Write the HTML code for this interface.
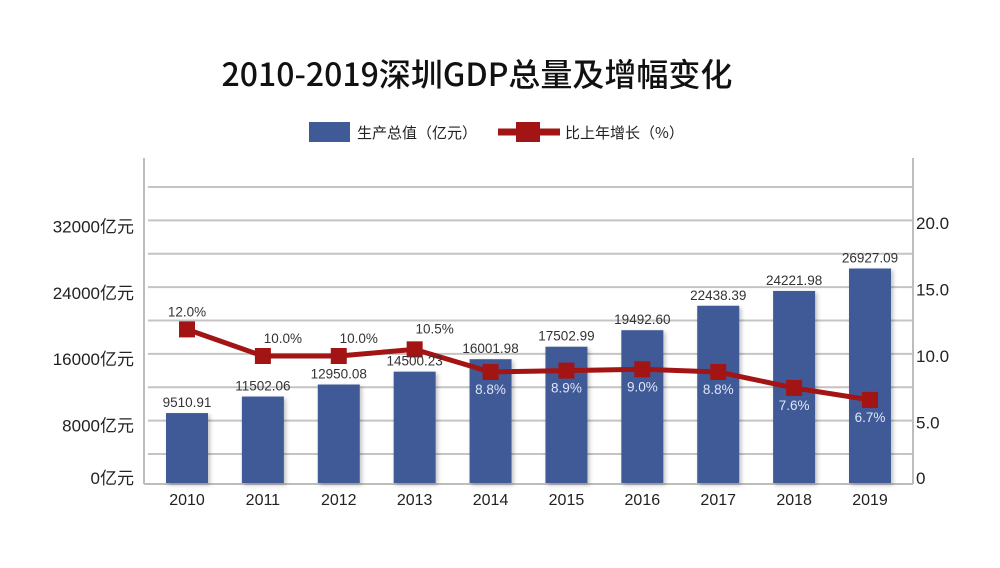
<!DOCTYPE html>
<html><head><meta charset="utf-8">
<style>
html,body{margin:0;padding:0;background:#fff;}
body{width:1000px;height:563px;overflow:hidden;font-family:"Liberation Sans","Noto Sans CJK SC",sans-serif;}
</style></head>
<body>
<svg id="chart" width="1000" height="563" xmlns="http://www.w3.org/2000/svg" font-family="'Liberation Sans','Noto Sans CJK SC',sans-serif">
  <defs>
    <filter id="sh" x="-20%" y="-20%" width="140%" height="140%">
      <feDropShadow dx="2" dy="2" stdDeviation="2" flood-color="#000" flood-opacity="0.25"/>
    </filter>
  </defs>
  <text x="477" y="86" text-anchor="middle" font-size="32" font-weight="500" fill="#111" font-family="'Noto Sans CJK SC',sans-serif">2010-2019深圳GDP总量及增幅变化</text>
  <g>
    <rect x="309" y="122" width="41" height="20" fill="#3f5a97"/>
    <text x="357" y="138" font-size="15" fill="#222" font-family="'Noto Sans CJK SC',sans-serif">生产总值（亿元）</text>
    <line x1="498" y1="132" x2="560" y2="132" stroke="#a31414" stroke-width="7"/>
    <rect x="516" y="122" width="24" height="20" fill="#a31414"/>
    <text x="565" y="138" font-size="15" fill="#222" font-family="'Noto Sans CJK SC',sans-serif">比上年增长（%）</text>
  </g>
  <g id="grid"></g>
  <g id="bars"></g>
  <g id="line"></g>
  <g id="labels"></g>
</svg>
<script>
const years=["2010","2011","2012","2013","2014","2015","2016","2017","2018","2019"];
const gdp=[9510.91,11502.06,12950.08,14500.23,16001.98,17502.99,19492.60,22438.39,24221.98,26927.09];
const gdpLabels=["9510.91","11502.06","12950.08","14500.23","16001.98","17502.99","19492.60","22438.39","24221.98","26927.09"];
const growth=[12.0,10.0,10.0,10.5,8.8,8.9,9.0,8.8,7.6,6.7];
const growthLabels=["12.0%","10.0%","10.0%","10.5%","8.8%","8.9%","9.0%","8.8%","7.6%","6.7%"];
const leftTicks=[0,8000,16000,24000,32000];
const rightTicks=[0,5,10,15,20];

const NS="http://www.w3.org/2000/svg";
const base=483;
const x=i=>187+i*(870-187)/(years.length-1);
const yL=v=>Math.min(base,492-v*0.0083);
const yR=v=>Math.min(base,489-v*13.3);
function mk(tag,attrs,parent,txt){const e=document.createElementNS(NS,tag);for(const k in attrs)e.setAttribute(k,attrs[k]);if(txt!==undefined)e.textContent=txt;parent.appendChild(e);return e;}

const grid=document.getElementById('grid');
for(let k=0;k<9;k++){
  const gy=187+k*(454-187)/8;
  const g=mk('line',{x1:148,x2:913,y1:gy,y2:gy,stroke:'#c4c4c4','stroke-width':2},grid);
  
  
}
const la=mk('line',{x1:144,x2:144,y1:158,y2:484,stroke:'#bdbdbd','stroke-width':2},grid);


const ra=mk('line',{x1:913,x2:913,y1:158,y2:484,stroke:'#bdbdbd','stroke-width':2},grid);


const ba=mk('line',{x1:144,x2:913,y1:484,y2:484,stroke:'#bdbdbd','stroke-width':2},grid);



leftTicks.forEach(v=>{
  const t=mk('text',{x:134,y:v===0?484:yL(v)+6,'text-anchor':'end','font-size':17,fill:'#222'},grid,v+'亿元');
  
  
});
rightTicks.forEach(v=>{
  const t=mk('text',{x:916,y:v===0?484:yR(v)+6,'font-size':17,fill:'#222'},grid,v===0?'0':v.toFixed(1));
  
  
});

const bars=document.getElementById('bars');
const labels=document.getElementById('labels');
years.forEach((yr,i)=>{
  const top=yL(gdp[i]);
  const b=mk('rect',{x:x(i)-21,y:top,width:42,height:base-top,fill:'#3f5a97',filter:'url(#sh)'},bars);
  
  
  const t=mk('text',{x:x(i),y:top-6,'text-anchor':'middle','font-size':13.5,fill:'#333'},labels,gdpLabels[i]);
  
  
  const xt=mk('text',{x:x(i),y:505,'text-anchor':'middle','font-size':16,fill:'#222'},labels,yr);
  
  
});

const line=document.getElementById('line');
const pts=growth.map((g,i)=>x(i)+','+yR(g)).join(' ');
const pl=mk('polyline',{points:pts,fill:'none',stroke:'#a31414','stroke-width':5,'stroke-linejoin':'round'},line);


growth.forEach((g,i)=>{
  const m=mk('rect',{x:x(i)-8,y:yR(g)-8,width:16,height:16,fill:'#a31414'},line);
  
  
  const above=i<4;
  const t=mk('text',{x:x(i)+(above&&i>0?20:0),y:above?yR(g)-(i===3?16:13):yR(g)+22,'text-anchor':'middle','font-size':13.5,fill:above?'#333':'#dfe6f5'},labels,growthLabels[i]);
  
  
});
</script>
</body></html>
